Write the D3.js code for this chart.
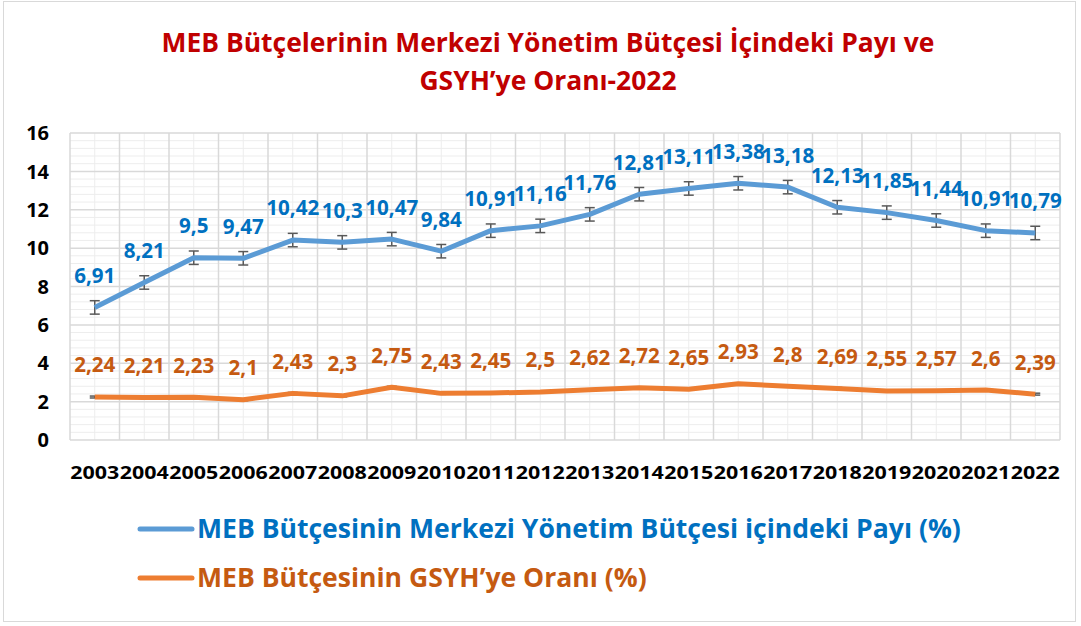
<!DOCTYPE html>
<html>
<head>
<meta charset="utf-8">
<script src="https://cdn.jsdelivr.net/npm/d3@7"></script>
<style>
body { margin: 0; background: #fff; }
text { font-family: "Open Sans", Lato, sans-serif; font-weight: bold; }
</style>
</head>
<body>
<script>
var years = ["2003","2004","2005","2006","2007","2008","2009","2010","2011","2012","2013","2014","2015","2016","2017","2018","2019","2020","2021","2022"];
var payi = [6.91, 8.21, 9.5, 9.47, 10.42, 10.3, 10.47, 9.84, 10.91, 11.16, 11.76, 12.81, 13.11, 13.38, 13.18, 12.13, 11.85, 11.44, 10.91, 10.79];
var gsyh = [2.24, 2.21, 2.23, 2.1, 2.43, 2.3, 2.75, 2.43, 2.45, 2.5, 2.62, 2.72, 2.65, 2.93, 2.8, 2.69, 2.55, 2.57, 2.6, 2.39];
var yTicks = [0, 2, 4, 6, 8, 10, 12, 14, 16];
var titleLines = ["MEB Bütçelerinin Merkezi Yönetim Bütçesi İçindeki Payı ve", "GSYH’ye Oranı-2022"];
var legendNames = ["MEB Bütçesinin Merkezi Yönetim Bütçesi içindeki Payı (%)", "MEB Bütçesinin GSYH’ye Oranı (%)"];
var errPayi = 0.35, errGsyh = 0.05;

var W = 1081, H = 626;
var svg = d3.select("body").append("svg").attr("width", W).attr("height", H);

// scale a text's font size so it spans a given width
function fit(sel, fs, target){
	sel.attr("font-size", fs);
	var len = sel.node().getComputedTextLength();
	var f = fs*target/len;
	sel.attr("font-size", f);
	return f;
}

svg.append("rect").attr("x", 3.5).attr("y", 1.5).attr("width", 1072).attr("height", 620)
	.attr("fill", "#fff").attr("stroke", "#d9d9d9").attr("stroke-width", 1);

var pLeft = 70, pRight = 1060, pTop = 133, pBottom = 440;
var x = d3.scaleBand().domain(years).range([pLeft, pRight]);
var y = d3.scaleLinear().domain([0, 16]).range([pBottom, pTop]);
var cx = function(d, i){ return x(years[i]) + x.bandwidth()/2; };

/* grid */
var g = svg.append("g");
var minor = d3.range(0, 16.01, 0.4).filter(function(v){ return Math.abs(v/2 - Math.round(v/2)) > 0.01; });
g.selectAll(".hmin").data(minor).enter().append("line")
	.attr("x1", pLeft).attr("x2", pRight).attr("y1", function(d){ return y(d); }).attr("y2", function(d){ return y(d); })
	.attr("stroke", "#ededed").attr("stroke-width", 1);
g.selectAll(".vmin").data(years).enter().append("line")
	.attr("x1", function(d){ return x(d) + x.bandwidth()/2; }).attr("x2", function(d){ return x(d) + x.bandwidth()/2; })
	.attr("y1", pTop).attr("y2", pBottom)
	.attr("stroke", "#ededed").attr("stroke-width", 1);
g.selectAll(".hmaj").data(yTicks).enter().append("line")
	.attr("x1", pLeft).attr("x2", pRight).attr("y1", function(d){ return y(d); }).attr("y2", function(d){ return y(d); })
	.attr("stroke", "#d9d9d9").attr("stroke-width", 1.5);
g.selectAll(".vmaj").data(years.concat(["end"])).enter().append("line")
	.attr("x1", function(d, i){ return pLeft + i*x.bandwidth(); }).attr("x2", function(d, i){ return pLeft + i*x.bandwidth(); })
	.attr("y1", pTop).attr("y2", pBottom)
	.attr("stroke", "#d9d9d9").attr("stroke-width", 1.5);

/* axes labels */
svg.selectAll(".yl").data(yTicks).enter().append("text")
	.attr("x", 49).attr("y", function(d){ return y(d); }).attr("dy", "0.36em")
	.attr("text-anchor", "end").attr("font-size", 20).attr("fill", "#000")
	.text(function(d){ return d; });
svg.selectAll(".xl").data(years).enter().append("text")
	.attr("x", function(d){ return x(d) + x.bandwidth()/2; }).attr("y", 479)
	.attr("text-anchor", "middle").attr("font-size", 18).attr("fill", "#000")
	.attr("textLength", 49).attr("lengthAdjust", "spacingAndGlyphs")
	.text(function(d){ return d; });

/* title */
var t1 = svg.append("text").attr("x", 548).attr("y", 52)
	.attr("text-anchor", "middle").attr("fill", "#C00000").text(titleLines[0]);
var tf = fit(t1, 24, 773);
svg.append("text").attr("x", 548).attr("y", 90).attr("font-size", tf)
	.attr("text-anchor", "middle").attr("fill", "#C00000").text(titleLines[1]);

/* data label size from one reference label */
var probe = svg.append("text").text("13,38");
var labFs = fit(probe, 18, 53);
probe.remove();

function series(vals, color, err, labColor){
	var line = d3.line().x(function(d, i){ return cx(d, i); }).y(function(d){ return y(d); });
	var eb = svg.append("g").attr("stroke", "#595959").attr("stroke-width", 1.5);
	vals.forEach(function(v, i){
		var px = cx(v, i);
		eb.append("line").attr("x1", px).attr("x2", px).attr("y1", y(v - err)).attr("y2", y(v + err));
		eb.append("line").attr("x1", px - 5).attr("x2", px + 5).attr("y1", y(v - err)).attr("y2", y(v - err));
		eb.append("line").attr("x1", px - 5).attr("x2", px + 5).attr("y1", y(v + err)).attr("y2", y(v + err));
	});
	svg.append("path").datum(vals).attr("d", line)
		.attr("fill", "none").attr("stroke", color).attr("stroke-width", 5)
		.attr("stroke-linejoin", "round");
	svg.selectAll(null).data(vals).enter().append("text")
		.attr("x", function(d, i){ return cx(d, i); }).attr("y", function(d){ return y(d) - 32; })
		.attr("dy", "0.36em").attr("text-anchor", "middle").attr("font-size", labFs).attr("fill", labColor)
		.text(function(d){ return String(d).replace(".", ","); });
}
series(gsyh, "#ED7D31", errGsyh, "#C55A11");
series(payi, "#5B9BD5", errPayi, "#0070C0");

/* legend */
var leg = [{c: "#5B9BD5", t: "#0070C0", y: 538, w: 764}, {c: "#ED7D31", t: "#C55A11", y: 587, w: 452}];
var legFs = 0;
leg.forEach(function(l, i){
	svg.append("line").attr("x1", 140).attr("x2", 192).attr("y1", l.y - 9).attr("y2", l.y - 9)
		.attr("stroke", l.c).attr("stroke-width", 5).attr("stroke-linecap", "round");
	var t = svg.append("text").attr("x", 197).attr("y", l.y)
		.attr("fill", l.t).text(legendNames[i]);
	if (i == 0) legFs = fit(t, 22, l.w);
	else t.attr("font-size", legFs);
});
</script>
</body>
</html>
